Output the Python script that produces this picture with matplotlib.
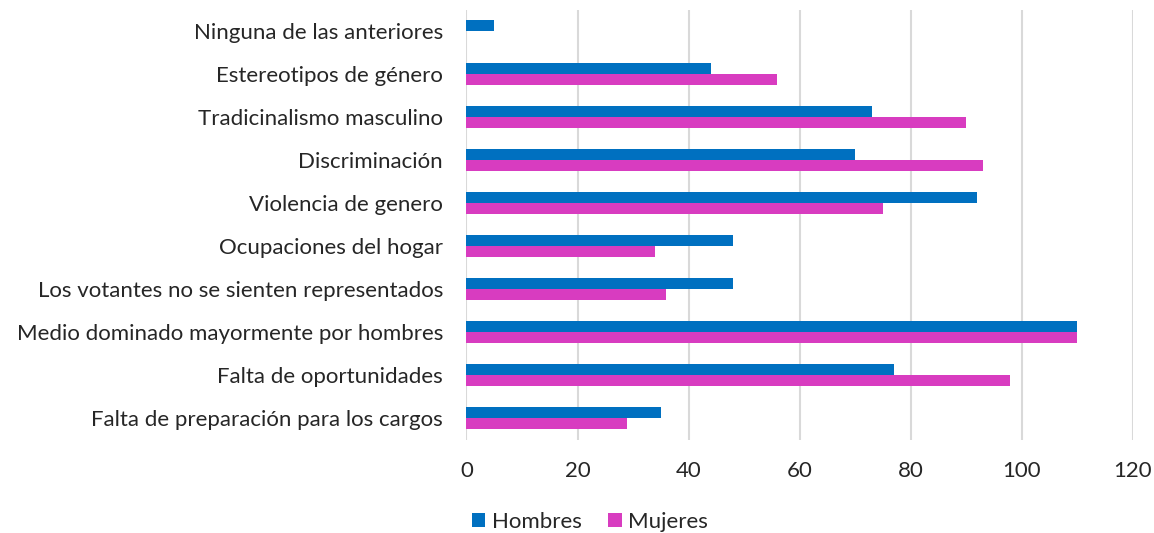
import matplotlib
matplotlib.use("Agg")
import matplotlib.pyplot as plt
import numpy as np

categories = [
    "Ninguna de las anteriores",
    "Estereotipos de género",
    "Tradicinalismo masculino",
    "Discriminación",
    "Violencia de genero",
    "Ocupaciones del hogar",
    "Los votantes no se sienten representados",
    "Medio dominado mayormente por hombres",
    "Falta de oportunidades",
    "Falta de preparación para los cargos",
]
hombres = [5, 44, 73, 70, 92, 48, 48, 110, 77, 35]
mujeres = [None, 56, 90, 93, 75, 34, 36, 110, 98, 29]
xticks = [0, 20, 40, 60, 80, 100, 120]

plt.rcParams['font.family'] = ['Lato', 'DejaVu Sans']

fig = plt.figure(figsize=(11.54, 5.33), dpi=100)
ax = fig.add_axes([466.5 / 1154, 1 - 440 / 533, 666 / 1154, 430.5 / 533])

y = np.arange(len(categories))
h = 0.256
m_vals = [v if v is not None else 0 for v in mujeres]
ax.barh(y - h / 2, hombres, height=h, color="#0070C0", label="Hombres", zorder=3)
ax.barh(y + h / 2, m_vals, height=h, color="#D83CC0", label="Mujeres", zorder=3)

ax.set_ylim(len(categories) - 0.5, -0.5)
ax.set_xlim(0, 120)
ax.set_yticks(y)
ax.set_yticklabels(categories, fontsize=16, color="#262626")
ax.set_xticks(xticks)
ax.set_xticklabels([str(t) for t in xticks], fontsize=16, color="#262626")
ax.tick_params(axis='both', length=0)
ax.tick_params(axis='y', pad=17)
ax.tick_params(axis='x', pad=15)
for s in ax.spines.values():
    s.set_visible(False)
ax.grid(axis='x', color="#D9D9D9", linewidth=1.5, zorder=0)
ax.set_axisbelow(True)

fig.legend(loc='center', bbox_to_anchor=(590 / 1154, 1 - 522 / 533), ncol=2,
           frameon=False, fontsize=16, handlelength=0.6, handleheight=0.6,
           handletextpad=0.3, columnspacing=1.2, labelcolor="#262626")

fig.savefig("out.png", dpi=100)
